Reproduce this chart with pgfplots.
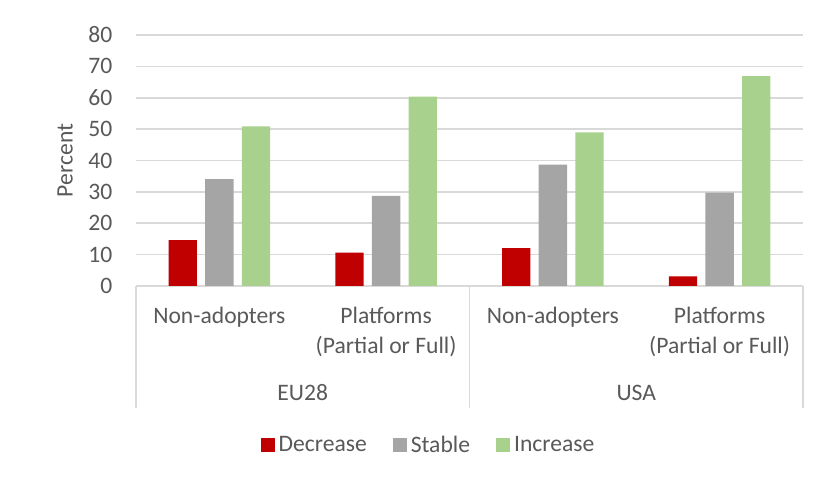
\documentclass[border=0pt]{standalone}
\usepackage{fontspec}
\setmainfont{Carlito}
\usepackage{pgfplots}
\pgfplotsset{compat=1.18}
\definecolor{decr}{HTML}{C00000}
\definecolor{stab}{HTML}{A5A5A5}
\definecolor{incr}{HTML}{A9D18E}
\definecolor{txt}{HTML}{595959}
\definecolor{gridc}{HTML}{D9D9D9}
\newcommand\cf{\fontsize{11.8}{15}\selectfont}
\begin{document}
\begin{tikzpicture}
\begin{axis}[
    scale only axis,
    width=333.5pt, height=125.5pt,
    ybar, bar width=0.17,
    xmin=-0.5, xmax=3.5,
    ymin=0, ymax=80,
    ytick={0,10,...,80},
    xtick={0,1,2,3},
    xticklabels={Non-adopters, {Platforms\\(Partial or Full)}, Non-adopters, {Platforms\\(Partial or Full)}},
    /pgf/number format/assume math mode=true,
    axis line style={draw=none},
    major tick length=0pt,
    ymajorgrids,
    grid style={gridc, line width=0.8pt},
    yticklabel style={font=\cf, text=txt, anchor=east, inner sep=0pt, xshift=-11.6pt},
    xticklabel style={font=\cf, text=txt, anchor=north, inner sep=0pt, yshift=-10.5pt, align=center},
    ylabel={Percent},
    ylabel style={font=\cf, text=txt, at={(axis description cs:-0.1064,0.5)}, anchor=center},
    legend columns=3,
    legend style={draw=none, font=\cf, text=txt,
        at={(axis description cs:0.44,-0.635)}, anchor=center,
        /tikz/every even column/.append style={column sep=11pt}},
    legend image code/.code={\fill[#1] (0pt,-3.5pt) rectangle (7pt,3.5pt);},
    clip=false,
    ]
\addplot[fill=decr, draw=none, bar shift=-0.22] coordinates {(0,14.6) (1,10.6) (2,12.1) (3,3.1)};
\addplot[fill=stab, draw=none, bar shift=0] coordinates {(0,34.1) (1,28.7) (2,38.7) (3,29.8)};
\addplot[fill=incr, draw=none, bar shift=0.22] coordinates {(0,50.9) (1,60.4) (2,49.0) (3,66.9)};
\legend{Decrease, Stable, Increase}
% category group separators
\draw[gridc, line width=0.8pt] (axis cs:-0.5,0) -- ++(0pt,-60.75pt);
\draw[gridc, line width=0.8pt] (axis cs:1.5,0) -- ++(0pt,-60.75pt);
\draw[gridc, line width=0.8pt] (axis cs:3.5,0) -- ++(0pt,-60.75pt);
\node[font=\cf, text=txt, inner sep=0pt, yshift=-53.3pt] at (axis cs:0.5,0) {EU28};
\node[font=\cf, text=txt, inner sep=0pt, yshift=-53.3pt] at (axis cs:2.5,0) {USA};
% page size
\path (rel axis cs:0,0) ++(-68pt,-97.5pt) rectangle ++(410pt,240.5pt);
\end{axis}
\end{tikzpicture}
\end{document}
